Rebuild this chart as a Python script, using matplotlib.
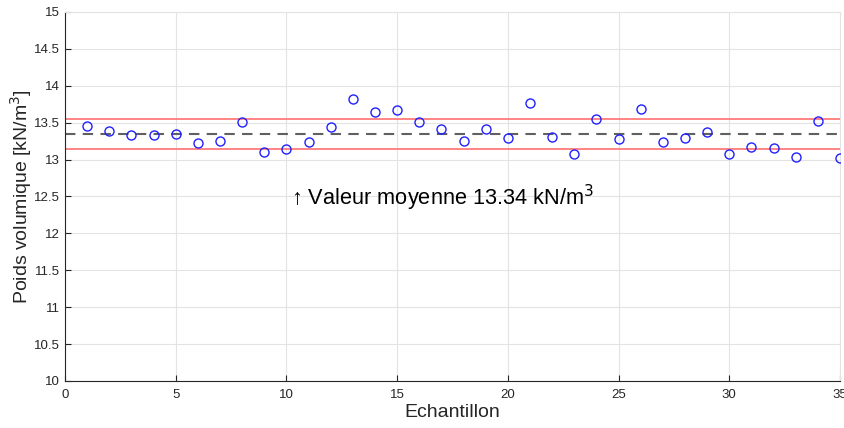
import matplotlib.pyplot as plt
import numpy as np

plt.rcParams['font.family'] = ['Liberation Sans', 'DejaVu Sans']

# sample densities
samples = np.arange(1, 36)
poids = [13.45, 13.39, 13.33, 13.33, 13.35, 13.22, 13.25, 13.51, 13.10, 13.14,
         13.24, 13.44, 13.82, 13.64, 13.67, 13.51, 13.42, 13.25, 13.42, 13.29,
         13.76, 13.30, 13.07, 13.55, 13.28, 13.69, 13.24, 13.29, 13.38, 13.07,
         13.17, 13.15, 13.04, 13.52, 13.02]
moyenne = 13.34
borne_haute = 13.55
borne_basse = 13.14

fig = plt.figure(figsize=(8.45, 4.28), dpi=100)
ax = fig.add_axes([0.077, 0.11, 0.917, 0.862])

ax.plot(samples, poids, 'o', mfc='none', mec='#2020ff', mew=1.0, ms=6.5, ls='none', zorder=3)
ax.axhline(moyenne, color='#606060', ls=(0, (5, 3.5)), lw=1.5, zorder=2)
ax.axhline(borne_haute, color='#ff7070', lw=1.2, zorder=2)
ax.axhline(borne_basse, color='#ff7070', lw=1.2, zorder=2)

ax.text(10.2, 12.48, '\u2191 Valeur moyenne 13.34 kN/m$^3$', fontsize=15.7,
        va='center', ha='left', color='black')

ax.set_xlim(0, 35)
ax.set_ylim(10, 15)
ax.set_xticks(np.arange(0, 36, 5))
ax.set_yticks(np.arange(10, 15.01, 0.5))
ax.set_yticklabels(['10', '10.5', '11', '11.5', '12', '12.5', '13', '13.5', '14', '14.5', '15'])
ax.grid(True, color='#e3e3e3', lw=0.8)
ax.set_axisbelow(True)
ax.tick_params(direction='in', length=4, labelsize=9.5, colors='#262626', width=0.8)
ax.tick_params(axis='x', pad=6)
for s in ['left', 'bottom']:
    ax.spines[s].set_color('#262626')
    ax.spines[s].set_linewidth(0.8)
for s in ['top', 'right']:
    ax.spines[s].set_color('#e3e3e3')
    ax.spines[s].set_linewidth(0.8)

ax.set_xlabel('Echantillon', fontsize=14, color='#262626', labelpad=2)
ax.set_ylabel('Poids volumique [kN/m$^3$]', fontsize=14, color='#262626', labelpad=0)

fig.savefig('out.png', dpi=100)
